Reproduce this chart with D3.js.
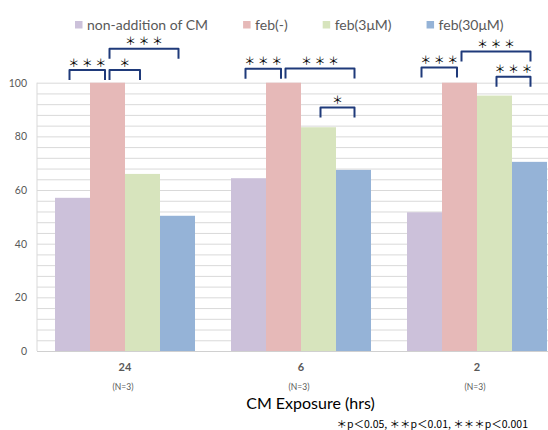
<!DOCTYPE html>
<html>
<head>
<meta charset="utf-8">
<script src="https://cdn.jsdelivr.net/npm/d3@7"></script>
<style>
    body { margin: 0; background: #fff; }
</style>
</head>
<body>
<script>

var categories = ["24", "6", "2"];
var categoryNotes = ["(N=3)", "(N=3)", "(N=3)"];
var series = ["non-addition of CM", "feb(-)", "feb(3μM)", "feb(30μM)"];
var colors = ["#ccc1da", "#e6b9b8", "#d7e4bd", "#95b3d7"];

// percent values per series, one per category (24, 6, 2 hrs)
var nonAddition = [57.1, 64.4, 51.7];
var febNone = [100, 100, 100];
var feb3 = [66, 83.4, 95.2];
var feb30 = [50.4, 67.5, 70.5];
var values = [nonAddition, febNone, feb3, feb30];

var yTicks = [0, 20, 40, 60, 80, 100];

// significance brackets: category, from series index, to series index, height (y units), label
var sigCategory = ["24", "24", "24", "6", "6", "6", "2", "2", "2"];
var sigFrom = [0, 1, 1, 0, 1, 2, 0, 1, 2];
var sigTo = [1, 2, 3, 1, 3, 3, 1, 3, 3];
var sigLevel = [104.7, 104.7, 112.7, 105.2, 105.3, 90.8, 105.7, 111.6, 102.2];
var sigLabel = ["＊ ＊ ＊", "＊", "＊ ＊ ＊", "＊ ＊ ＊", "＊ ＊ ＊", "＊", "＊ ＊ ＊", "＊ ＊ ＊", "＊ ＊ ＊"];

var width = 548, height = 430;
var plot = {left: 37, top: 82.7, bottom: 351, right: 565};

var svg = d3.select("body").append("svg")
    .attr("width", width)
    .attr("height", height)
    .style("font-family", "Lato, 'Liberation Sans', sans-serif");

var x0 = d3.scaleBand()
    .domain(categories)
    .range([plot.left, plot.right])
    .paddingInner(0.2045)
    .paddingOuter(0.1023);

var x1 = d3.scaleBand()
    .domain(d3.range(series.length))
    .range([0, x0.bandwidth()]);

var y = d3.scaleLinear()
    .domain([0, 100])
    .range([plot.bottom, plot.top]);

// grid lines
svg.append("g")
    .attr("transform", "translate(" + plot.left + ",0)")
    .call(d3.axisLeft(y).tickValues(d3.range(0, 101, 4)).tickSize(-(width - plot.left)).tickFormat(""))
    .call(function (g) { g.select(".domain").remove(); })
    .selectAll("line")
    .attr("stroke", "#d9d9d9");

// plot frame
svg.append("line")
    .attr("x1", plot.left).attr("x2", plot.left)
    .attr("y1", plot.top).attr("y2", plot.bottom)
    .attr("stroke", "#d9d9d9");

// y labels
svg.append("g")
    .attr("transform", "translate(" + plot.left + ",0)")
    .call(d3.axisLeft(y).tickValues(yTicks).tickSize(0).tickPadding(10))
    .call(function (g) { g.select(".domain").remove(); })
    .selectAll("text")
    .attr("fill", "#595959")
    .style("font-size", "10.5px")
    .style("font-family", "Lato, sans-serif");

// bars
var groups = svg.selectAll(".group")
    .data(categories)
    .enter()
    .append("g")
    .attr("class", "group")
    .attr("transform", function (d) { return "translate(" + x0(d) + ",0)"; });

groups.selectAll("rect")
    .data(function (d, ci) { return values.map(function (s, si) { return {si: si, v: s[ci]}; }); })
    .enter()
    .append("rect")
    .attr("x", function (d) { return x1(d.si); })
    .attr("width", x1.bandwidth())
    .attr("y", function (d) { return y(d.v); })
    .attr("height", function (d) { return y(0) - y(d.v); })
    .attr("fill", function (d) { return colors[d.si]; });

// bottom axis line
svg.append("line")
    .attr("x1", plot.left).attr("x2", width)
    .attr("y1", plot.bottom + 0.5).attr("y2", plot.bottom + 0.5)
    .attr("stroke", "#d0d0d0");

// category labels
svg.selectAll(".cat")
    .data(categories)
    .enter()
    .append("text")
    .attr("class", "cat")
    .attr("x", function (d) { return x0(d) + x0.bandwidth() / 2; })
    .attr("y", 371)
    .attr("text-anchor", "middle")
    .attr("fill", "#595959")
    .style("font-size", "11px")
    .style("font-weight", "bold")
    .text(function (d) { return d; });

svg.selectAll(".note")
    .data(categories)
    .enter()
    .append("text")
    .attr("class", "note")
    .attr("x", function (d) { return x0(d) + x0.bandwidth() / 2 - 2; })
    .attr("y", 389.5)
    .attr("text-anchor", "middle")
    .attr("fill", "#595959")
    .style("font-size", "8.5px")
    .text(function (d, i) { return categoryNotes[i]; });

// axis title
svg.append("text")
    .attr("x", 310.5)
    .attr("y", 409)
    .attr("text-anchor", "middle")
    .attr("fill", "#000")
    .style("font-size", "16px")
    .text("CM Exposure (hrs)");

// footnote
svg.append("text")
    .attr("x", 528)
    .attr("y", 428)
    .attr("text-anchor", "end")
    .attr("fill", "#000")
    .style("font-size", "10.5px")
    .style("font-family", "'Noto Sans CJK JP', sans-serif")
    .text("＊p＜0.05, ＊＊p＜0.01, ＊＊＊p＜0.001");

// legend
var legend = svg.append("g").attr("transform", "translate(75,0)");
var lx = 0;
series.forEach(function (name, i) {
    var item = legend.append("g").attr("transform", "translate(" + lx + ",0)");
    item.append("rect")
        .attr("x", 0).attr("y", 21)
        .attr("width", 7.5).attr("height", 7.5)
        .attr("fill", colors[i]);
    var t = item.append("text")
        .attr("x", 12)
        .attr("y", 30)
        .attr("fill", "#595959")
        .style("font-size", "14px")
        .text(name);
    lx += 12 + t.node().getComputedTextLength() + 35;
});

// significance brackets
var legLen = 10;
var sig = svg.append("g").attr("class", "sig");
sigCategory.forEach(function (c, i) {
    var ca = x0(c) + x1(sigFrom[i]) + x1.bandwidth() / 2;
    var cb = x0(c) + x1(sigTo[i]) + x1.bandwidth() / 2;
    var xa = ca + (sigFrom[i] > 0 ? 2 : -3);
    var xb = cb + (sigTo[i] === 3 ? 1 : -2.5);
    var yt = y(sigLevel[i]);
    sig.append("path")
        .attr("d", "M" + xa + "," + (yt + legLen) + "V" + yt + "H" + xb + "V" + (yt + legLen))
        .attr("fill", "none")
        .attr("stroke", "#1f3a7a")
        .attr("stroke-width", 2)
        .attr("stroke-linejoin", "round");
    sig.append("text")
        .attr("x", (xa + xb) / 2)
        .attr("y", yt - 3.5)
        .attr("text-anchor", "middle")
        .attr("fill", "#000")
        .style("font-size", "11px")
        .style("font-family", "'Noto Sans CJK JP', sans-serif")
        .text(sigLabel[i]);
});

</script>
</body>
</html>
